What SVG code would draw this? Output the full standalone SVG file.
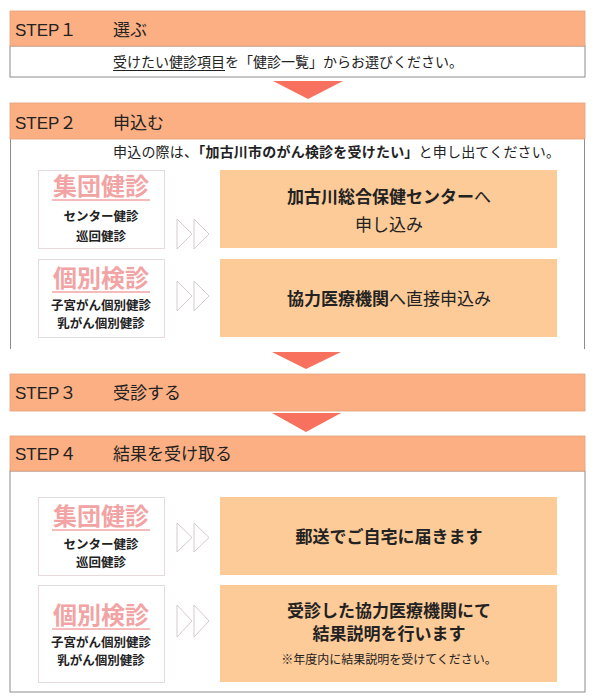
<svg xmlns="http://www.w3.org/2000/svg" width="598" height="700" viewBox="0 0 598 700">
<style>
.bar{fill:#FCAF82;stroke:#E3A07C;stroke-width:0.8}
.frame{fill:#FFFFFF;stroke:#8C8C8C;stroke-width:1}
.side{fill:none;stroke:#8C8C8C;stroke-width:1}
.lbox{fill:#FFFFFF;stroke:#E6DADA;stroke-width:1}
.rbox{fill:#FDCB98}
.tri{fill:#F8705E}
.chev{fill:none;stroke:#D6CBCB;stroke-width:1}
.step{font-family:"Liberation Sans","Noto Sans CJK JP",sans-serif;font-size:17px;fill:#222}
.jp{font-family:"Noto Sans CJK JP",sans-serif;fill:#222}
.h{font-size:17px}
.d{font-size:14px}
.big{font-size:24px;font-weight:bold;fill:#F2A3A3}
.sub{font-size:12.5px;font-weight:bold}
.rt{font-size:17px}
.b{font-weight:bold}
.sm{font-size:12px}
.ul{stroke:#F2A3A3;stroke-width:1.5}
</style>

<g id="step1">
  <rect class="frame" x="10" y="46" width="575" height="31"/>
  <rect class="bar" x="10" y="11" width="575" height="35"/>
  <text class="step" x="15" y="36">STEP１</text>
  <text class="jp h" x="113" y="36">選ぶ</text>
  <text class="jp d" x="113" y="67">受けたい健診項目を「健診一覧」からお選びください。</text>
  <line x1="113" y1="70.5" x2="225" y2="70.5" stroke="#222" stroke-width="1"/>
</g>

<g id="step2">
  <rect x="10" y="139" width="575" height="210" fill="#FFFFFF"/>
  <line class="side" x1="10.5" y1="139" x2="10.5" y2="349"/>
  <line class="side" x1="584.5" y1="139" x2="584.5" y2="349"/>
  <rect class="bar" x="10" y="103" width="575" height="36"/>
  <text class="step" x="15" y="129">STEP２</text>
  <text class="jp h" x="113" y="129">申込む</text>
  <text class="jp d" x="113" y="157" textLength="447" lengthAdjust="spacing">申込の際は、<tspan class="b">「加古川市のがん検診を受けたい」</tspan>と申し出てください。</text>
</g>

<g id="s2-group-checkup">
  <rect class="lbox" x="38.5" y="170.5" width="126" height="78"/>
  <text class="jp big" x="101" y="195" text-anchor="middle">集団健診</text>
  <line class="ul" x1="52" y1="200" x2="150" y2="200"/>
  <text class="jp sub" x="101" y="221" text-anchor="middle">センター健診</text>
  <text class="jp sub" x="101" y="240.5" text-anchor="middle">巡回健診</text>
</g>

<g id="s2-center">
  <rect class="rbox" x="220" y="170" width="337" height="78"/>
  <text class="jp rt b" x="389" y="203" text-anchor="middle">加古川総合保健センター<tspan font-weight="normal">へ</tspan></text>
  <text class="jp rt" x="389" y="231" text-anchor="middle">申し込み</text>
</g>

<g id="s2-individual-checkup">
  <rect class="lbox" x="38.5" y="259.5" width="126" height="78"/>
  <text class="jp big" x="101" y="287" text-anchor="middle">個別検診</text>
  <line class="ul" x1="52" y1="292" x2="150" y2="292"/>
  <text class="jp sub" x="101" y="309.5" text-anchor="middle">子宮がん個別健診</text>
  <text class="jp sub" x="101" y="328" text-anchor="middle">乳がん個別健診</text>
</g>

<g id="s2-clinic">
  <rect class="rbox" x="220" y="259" width="337" height="78"/>
  <text class="jp rt" x="389" y="305" text-anchor="middle"><tspan class="b">協力医療機関</tspan>へ直接申込み</text>
</g>

<g id="step3">
  <rect class="bar" x="10" y="374" width="575" height="37"/>
  <text class="step" x="15" y="399">STEP３</text>
  <text class="jp h" x="113" y="399">受診する</text>
</g>

<g id="step4">
  <rect class="frame" x="10" y="471" width="575" height="221"/>
  <rect class="bar" x="10" y="436" width="575" height="35"/>
  <text class="step" x="15" y="460">STEP４</text>
  <text class="jp h" x="113" y="460">結果を受け取る</text>
</g>

<g id="s4-group-checkup">
  <rect class="lbox" x="38.5" y="497.5" width="126" height="78"/>
  <text class="jp big" x="101" y="525" text-anchor="middle">集団健診</text>
  <line class="ul" x1="52" y1="530" x2="150" y2="530"/>
  <text class="jp sub" x="101" y="548.5" text-anchor="middle">センター健診</text>
  <text class="jp sub" x="101" y="567" text-anchor="middle">巡回健診</text>
</g>

<g id="s4-mail">
  <rect class="rbox" x="220" y="497" width="337" height="78"/>
  <text class="jp rt b" x="389" y="543" text-anchor="middle">郵送でご自宅に届きます</text>
</g>

<g id="s4-individual-checkup">
  <rect class="lbox" x="38.5" y="585.5" width="126" height="97"/>
  <text class="jp big" x="101" y="624" text-anchor="middle">個別検診</text>
  <line class="ul" x1="52" y1="629" x2="150" y2="629"/>
  <text class="jp sub" x="101" y="646.5" text-anchor="middle">子宮がん個別健診</text>
  <text class="jp sub" x="101" y="665" text-anchor="middle">乳がん個別健診</text>
</g>

<g id="s4-clinic">
  <rect class="rbox" x="220" y="585" width="337" height="97"/>
  <text class="jp rt b" x="389" y="617" text-anchor="middle">受診した協力医療機関にて</text>
  <text class="jp rt b" x="389" y="640" text-anchor="middle">結果説明を行います</text>
  <text class="jp sm" x="389" y="664" text-anchor="middle">※年度内に結果説明を受けてください。</text>
</g>

<g id="connectors">
  <polygon class="tri" points="273,81 343,81 308,99"/>
  <polygon class="tri" points="272,352 341,352 306,369"/>
  <polygon class="tri" points="272,413 341,413 306,432"/>
  <polygon class="chev" points="177,219 192,234 177,249"/>
  <polygon class="chev" points="194,219 209,234 194,249"/>
  <polygon class="chev" points="177,281 192,296 177,311"/>
  <polygon class="chev" points="194,281 209,296 194,311"/>
  <polygon class="chev" points="177,523 192,537.5 177,552"/>
  <polygon class="chev" points="194,523 209,537.5 194,552"/>
  <polygon class="chev" points="177,605 192,621 177,637"/>
  <polygon class="chev" points="194,605 209,621 194,637"/>
</g>
</svg>
